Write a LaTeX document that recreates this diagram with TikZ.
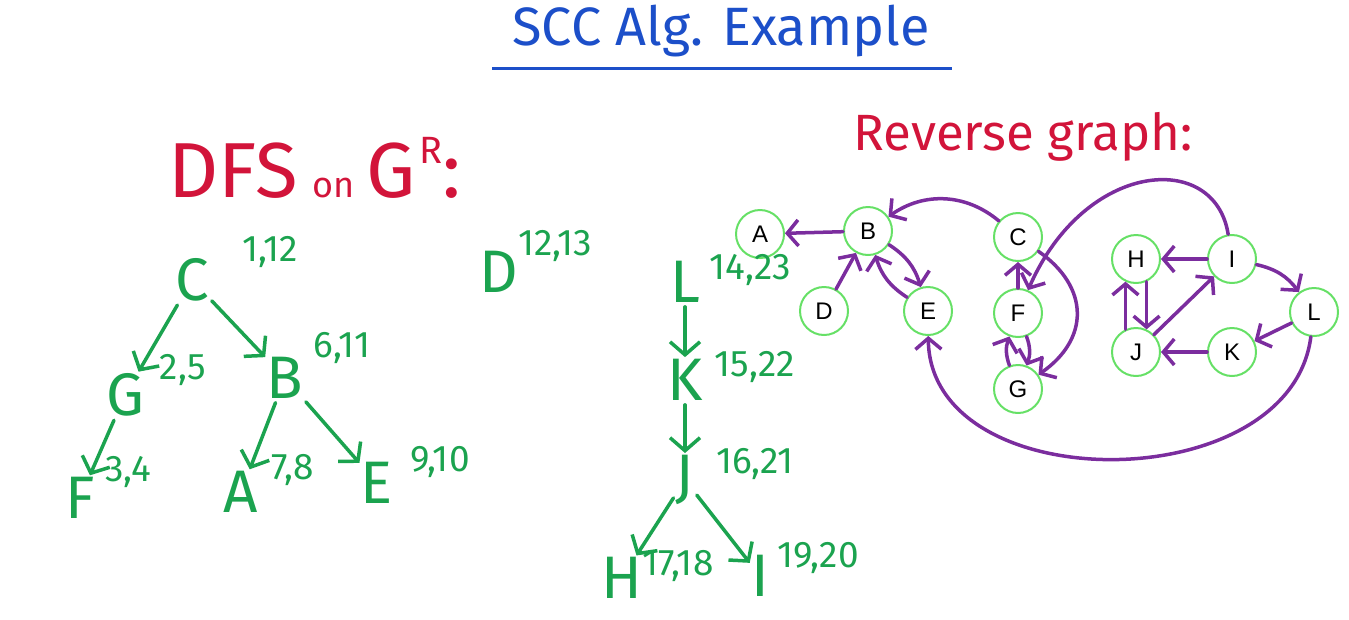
\documentclass[tikz,border=0pt]{standalone}
\usepackage{fontspec}
\setmainfont{Fira Sans}
\newfontfamily\arialfont{Liberation Sans}
\usetikzlibrary{positioning, arrows.meta}
\definecolor{verde}{HTML}{1BA34F}
\definecolor{lima}{HTML}{66E066}
\definecolor{roxo}{HTML}{7B2D9E}
\definecolor{rojo}{HTML}{D2143A}
\definecolor{azul}{HTML}{1C4FC9}

\begin{document}
\begin{tikzpicture}[x=1pt, y=1pt,
    vtx/.style={circle, draw=lima, line width=2pt, minimum size=48pt, inner sep=0pt,
        font=\arialfont\fontsize{24}{24}\selectfont},
    redge/.style={roxo, line width=3.5pt, line cap=round,
        -{Straight Barb[length=11pt,width=26pt,line width=3.5pt]}},
    tlet/.style={verde, inner sep=0pt, font=\fontsize{60}{60}\selectfont},
    tnum/.style={verde, inner sep=0pt, font=\fontsize{37}{37}\selectfont},
    tedge/.style={verde, line width=3.5pt, line cap=round, shorten <=4pt, shorten >=2pt,
        -{Straight Barb[length=13pt,width=30pt,line width=3.5pt]}}]
    \useasboundingbox (0,0) rectangle (1349,-619);
    % headings
    \node[azul, anchor=base, font=\fontsize{54}{54}\selectfont] (title) at (721,-45) {SCC Alg. Example};
    \draw[azul, line width=3pt] (492,-68) -- (952,-68);
    \node[rojo, anchor=base west, font=\fontsize{51}{51}\selectfont] (rev) at (850,-150) {Reverse graph:};
    \node[rojo, anchor=base west, font=\fontsize{78}{78}\selectfont] (dfs) at (165,-197)
        {DFS\hspace{14pt}{\fontsize{36}{36}\selectfont on}\hspace{12pt}G\hspace{4pt}%
         \raisebox{34pt}{\fontsize{38}{38}\selectfont R}:};
    % reverse graph
    \foreach \n/\x/\y in {A/760/234, B/868/231, C/1018/237, D/824/311, E/928/311, F/1018/313,
            G/1018/389, H/1136/259, I/1232/259, J/1136/352, K/1232/352, L/1314/312}
        \node[vtx] (\n) at (\x,-\y) {\n};
    \foreach \a/\b in {B/A, D/B, F/C, I/H, J/I, L/K, K/J}
        \draw[redge] (\a) -- (\b);
    \foreach \a/\b in {B/E, E/B, F/G, G/F, I/L}
        \draw[redge] (\a) to[bend left=20] (\b);
    \draw[redge] (H.-65) -- (J.65);
    \draw[redge] (J.115) -- (H.-115);
    \draw[redge] (C) to[out=140, in=35] (B);
    \draw[redge] (C) to[out=-35, in=35, looseness=1.3] (G);
    \draw[redge] (I) .. controls (1215,-150) and (1085,-160) .. (F);
    \draw[redge] (L) .. controls (1290,-500) and (930,-500) .. (E);
    % DFS on G^R
    \foreach \n/\x/\y/\t/\u/\v in {C/192/280/{1,12}/270/252, G/125/395/{2,5}/183/370,
            B/285/378/{6,11}/342/348, F/80/498/{3,4}/128/472, A/241/492/{7,8}/293/470,
            E/377/483/{9,10}/440/462, D/499/272/{12,13}/555/246, L/685/282/{14,23}/750/270,
            K/685/380/{15,22}/755/367, J/685/480/{16,21}/755/464, H/622/578/{17,18}/678/566,
            I/760/576/{19,20}/818/558}
        {\node[tlet] (t\n) at (\x,-\y) {\n};
         \node[tnum] (n\n) at (\u,-\v) {\t};}
    \foreach \a/\b in {C/G, C/B, G/F, B/A, B/E, L/K, K/J, J/H, J/I}
        \draw[tedge] (t\a) -- (t\b);
\end{tikzpicture}
\end{document}
